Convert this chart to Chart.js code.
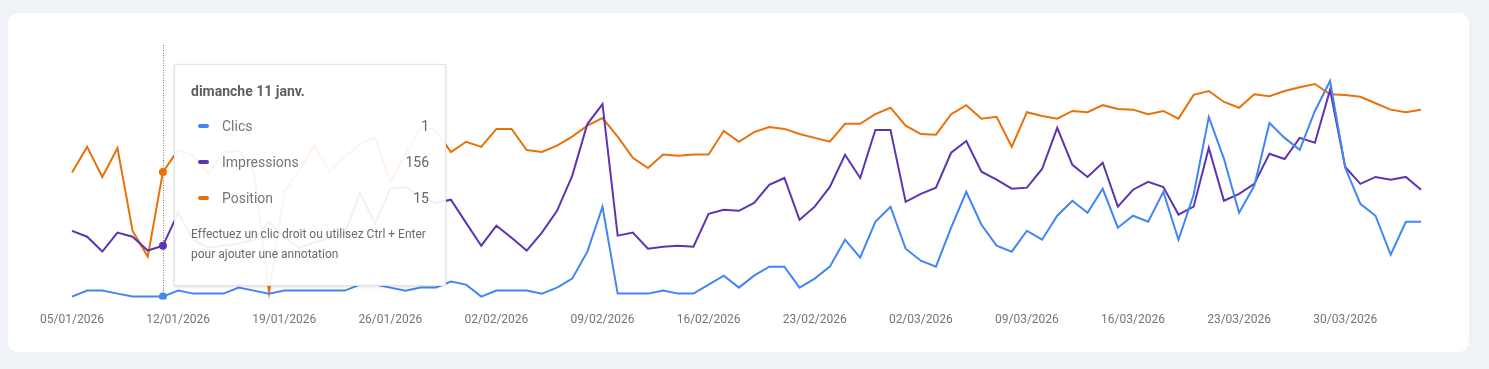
<!DOCTYPE html>
<html>
<head>
<meta charset="utf-8">
<script src="https://cdn.jsdelivr.net/npm/chart.js@4.4.1/dist/chart.umd.min.js"></script>
<style>
  html, body { margin: 0; padding: 0; width: 1489px; height: 369px; overflow: hidden; background: #eff2f7; font-family: Roboto, sans-serif; }
  #card { position: absolute; left: 8px; top: 13px; width: 1461px; height: 339px; background: #fff; border-radius: 10px; }
  #myChart { position: absolute; left: 0; top: 0; }
  #tip { position: absolute; display: none; width: 272px; height: 222px; box-sizing: border-box; background: rgba(255,255,255,0.92); border: 1px solid #e3e3e3; box-shadow: 0 1px 3px rgba(0,0,0,0.12); color: #5f6368; }
  #tip .title { position: absolute; left: 16px; top: 18px; font-size: 14px; line-height: 16px; font-weight: bold; color: #5f5f5f; }
  #tip .row { position: absolute; left: 0; right: 0; height: 20px; line-height: 20px; font-size: 14px; color: #757575; }
  #tip .dash { position: absolute; left: 23px; top: 8px; width: 11px; height: 4px; border-radius: 2px; }
  #tip .lbl { position: absolute; left: 47px; }
  #tip .val { position: absolute; right: 16px; color: #666; }
  #tip .foot { position: absolute; left: 16px; top: 159px; font-size: 12px; line-height: 20px; color: #6a6a6a; }
</style>
</head>
<body>
<div id="card"></div>
<canvas id="myChart" width="1489" height="369"></canvas>
<div id="tip"></div>
<script>
// valeurs (05/01/2026 -> 04/04/2026)
var clics = [1, 3, 3, 2, 1, 1, 1, 3, 2, 2, 2, 4, 3, 2, 3, 3, 3, 3, 3, 5,
             5, 4, 3, 4, 4, 6, 5, 1, 3, 3, 3, 2, 4, 7, 16, 31, 2, 2, 2, 3,
             2, 2, 5, 8, 4, 8, 11, 11, 4, 7, 11, 20, 14, 26, 31, 17, 13, 11, 24, 36,
             25, 18, 16, 23, 20, 28, 33, 29, 37, 24, 28, 26, 36, 20, 35, 61, 47, 29, 38, 59,
             54, 50, 63, 73, 44, 32, 28, 15, 26, 26];
var impressions = [199, 182, 139, 194, 182, 142, 156, 251, 173, 150, 156, 162, 173, 225, 179, 150, 165, 179, 191, 309,
                   220, 321, 326, 298, 280, 289, 222, 156, 214, 179, 142, 194, 257, 358, 508, 566, 185, 194, 147, 153,
                   156, 153, 248, 260, 257, 280, 332, 352, 231, 269, 326, 419, 352, 491, 491, 283, 306, 324, 425, 459,
                   370, 347, 321, 324, 378, 497, 390, 355, 396, 269, 318, 341, 326, 246, 269, 439, 286, 306, 335, 422,
                   407, 468, 454, 607, 384, 335, 355, 347, 355, 318];
var position = [15.2, 11.2, 15.9, 11.4, 24.3, 28.3, 15.1, 11.7, 12.6, 15.4, 12.1, 11.8, 15.1, 33.9, 18.2, 14.8, 10.9, 15.1, 12.8, 10.7,
                9.8, 16.6, 12.4, 8.2, 8.6, 12.0, 10.4, 11.2, 8.4, 8.4, 11.7, 12.0, 11.0, 9.6, 7.9, 6.7, 9.6, 12.9, 14.5, 12.4,
                12.6, 12.4, 12.4, 8.7, 10.4, 8.9, 8.1, 8.4, 9.2, 9.8, 10.4, 7.6, 7.6, 6.1, 5.1, 7.9, 9.2, 9.3, 6.1, 4.7,
                6.8, 6.5, 11.2, 5.8, 6.4, 6.8, 5.6, 5.8, 4.7, 5.3, 5.4, 6.1, 5.6, 6.8, 3.1, 2.5, 4.2, 5.1, 3.0, 3.3,
                2.5, 1.9, 1.4, 3.0, 3.1, 3.4, 4.4, 5.4, 5.8, 5.4];
var tickDates = ['05/01/2026', '12/01/2026', '19/01/2026', '26/01/2026', '02/02/2026', '09/02/2026', '16/02/2026',
                 '23/02/2026', '02/03/2026', '09/03/2026', '16/03/2026', '23/03/2026', '30/03/2026'];
var seriesNames = ['Clics', 'Impressions', 'Position'];
var colors = ['#4285f4', '#5e35b1', '#e8710a'];
var activeIndex = 6;

// dates jour par jour
var dates = [];
var days = [];
for (var i = 0; i < clics.length; i++) {
    var d = new Date(2026, 0, 5 + i);
    days.push(d);
    dates.push(String(d.getDate()).padStart(2, '0') + '/' + String(d.getMonth() + 1).padStart(2, '0') + '/' + d.getFullYear());
}

// ligne pointillée verticale
var crosshair = {
    id: 'crosshair',
    beforeDatasetsDraw: function(chart) {
        var act = chart.getActiveElements();
        if (!act.length) return;
        var x = Math.round(act[0].element.x) + 0.5;
        var c = chart.ctx;
        c.save();
        c.strokeStyle = '#777';
        c.lineWidth = 1;
        c.setLineDash([1, 1.5]);
        c.beginPath();
        c.moveTo(x, 45);
        c.lineTo(x, chart.chartArea.bottom - 2);
        c.stroke();
        c.restore();
    }
};

function renderTip(context) {
    var tt = context.tooltip;
    var el = document.getElementById('tip');
    if (tt.opacity === 0 || !tt.dataPoints || !tt.dataPoints.length) { el.style.display = 'none'; return; }
    var idx = tt.dataPoints[0].dataIndex;
    var title = days[idx].toLocaleDateString('fr-FR', {weekday: 'long', day: 'numeric', month: 'short'});
    var html = '<div class="title">' + title + '</div>';
    tt.dataPoints.forEach(function(p, k) {
        var v = p.datasetIndex === 2 ? Math.round(p.raw) : p.raw;
        html += '<div class="row" style="top:' + (51 + 36 * k) + 'px">' +
                '<span class="dash" style="background:' + colors[p.datasetIndex] + '"></span>' +
                '<span class="lbl">' + p.dataset.label + '</span>' +
                '<span class="val">' + v + '</span></div>';
    });
    html += '<div class="foot">Effectuez un clic droit ou utilisez Ctrl + Enter<br>pour ajouter une annotation</div>';
    el.innerHTML = html;
    el.style.display = 'block';
    el.style.left = (Math.round(tt.caretX) + 11) + 'px';
    el.style.top = '64px';
}

var chart = new Chart('myChart', {
    type: 'line',
    data: {
        labels: dates,
        datasets: [
            {label: seriesNames[0], data: clics, yAxisID: 'yClics'},
            {label: seriesNames[1], data: impressions, yAxisID: 'yImpr'},
            {label: seriesNames[2], data: position, yAxisID: 'yPos'}
        ].map(function(ds, k) {
            ds.borderColor = colors[k];
            ds.backgroundColor = colors[k];
            ds.pointBackgroundColor = colors[k];
            ds.pointHoverBackgroundColor = colors[k];
            ds.pointHoverBorderColor = colors[k];
            return ds;
        })
    },
    options: {
        responsive: false,
        animation: false,
        layout: {padding: {left: 72, right: 68, top: 75, bottom: 29}},
        interaction: {mode: 'index', intersect: false},
        elements: {
            line: {borderWidth: 2, tension: 0},
            point: {radius: 0, hoverRadius: 4, hoverBorderWidth: 0}
        },
        plugins: {
            legend: {display: false},
            tooltip: {enabled: false, external: renderTip}
        },
        scales: {
            x: {
                grid: {display: false, drawTicks: false},
                border: {display: false},
                ticks: {
                    autoSkip: false,
                    maxRotation: 0,
                    padding: 13,
                    color: '#757575',
                    font: {family: 'Roboto', size: 12},
                    callback: function(v) {
                        var l = this.getLabelForValue(v);
                        return tickDates.indexOf(l) >= 0 ? l : '';
                    }
                }
            },
            yClics: {display: false, min: 0, max: 75},
            yImpr: {display: false, min: 0, max: 650},
            yPos: {display: false, reverse: true, min: 0, max: 35}
        }
    },
    plugins: [crosshair]
});

var active = [0, 1, 2].map(function(k) { return {datasetIndex: k, index: activeIndex}; });
chart.setActiveElements(active);
chart.tooltip.setActiveElements(active, {x: chart.scales.x.getPixelForValue(activeIndex), y: 200});
chart.update();
</script>
</body>
</html>
